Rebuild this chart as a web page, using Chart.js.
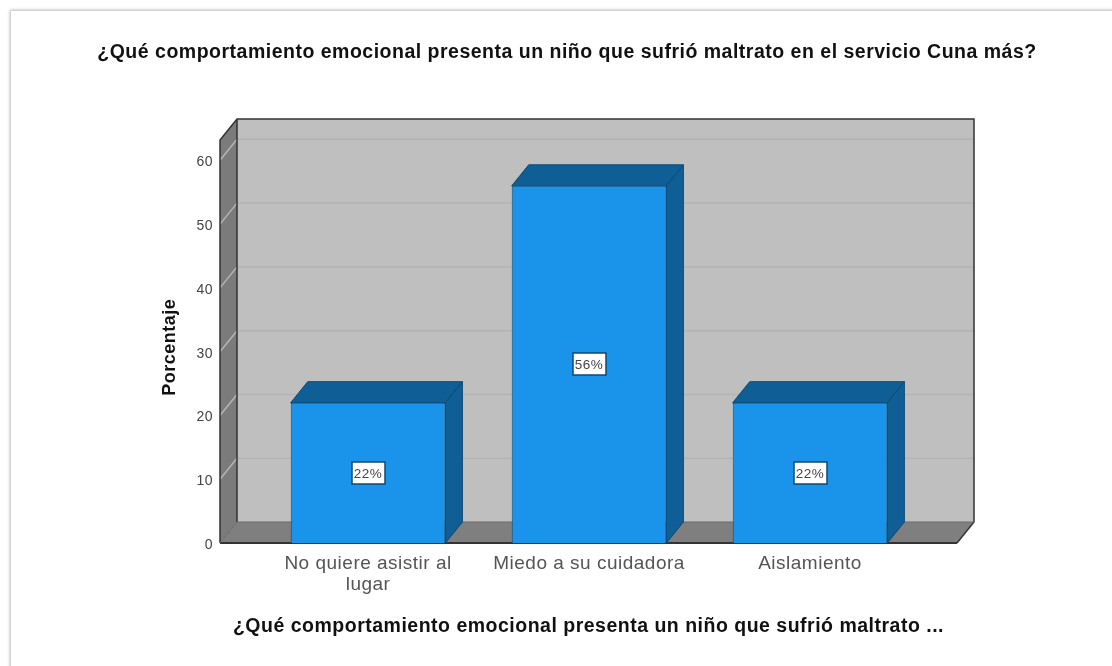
<!DOCTYPE html>
<html>
<head>
<meta charset="utf-8">
<title>Comportamiento emocional</title>
<script src="https://cdn.jsdelivr.net/npm/chart.js@4"></script>
<style>
  html, body { margin: 0; padding: 0; background: #fff; overflow: hidden; width: 1112px; height: 666px; }
  #frame { position: absolute; left: 11px; top: 11px; width: 1112px; height: 700px; background: #fff;
           box-shadow: -1px -1px 3px #b5b5b5; }
  #chartCanvas { filter: blur(0.4px); }
</style>
</head>
<body>
<div id="frame"><canvas id="chartCanvas" width="1112" height="655"></canvas></div>
<script>
// DATA
const categories = [['No quiere asistir al', 'lugar'], 'Miedo a su cuidadora', 'Aislamiento'];
const porcentajes = [22, 56, 22];
const dataLabels = ['22%', '56%', '22%'];
const chartTitle = '¿Qué comportamiento emocional presenta un niño que sufrió maltrato en el servicio Cuna más?';
const xTitle = '¿Qué comportamiento emocional presenta un niño que sufrió maltrato ...';
const yTitle = 'Porcentaje';

const FONT = '"Liberation Sans", Arial, sans-serif';
// depth of the fake 3D box, in pixels
const DX = 17;
const DY = -21;
// value at the top of the front edge of the left wall
const WALL_TOP = 63.2;

function poly(ctx, pts, fill, stroke) {
  ctx.beginPath();
  pts.forEach((p, i) => i ? ctx.lineTo(p[0], p[1]) : ctx.moveTo(p[0], p[1]));
  ctx.closePath();
  if (fill) { ctx.fillStyle = fill; ctx.fill(); }
  if (stroke) { ctx.strokeStyle = stroke; ctx.stroke(); }
}

// back wall, left wall, floor and the grid on them
const wallsPlugin = {
  id: 'walls',
  afterLayout(chart) {
    // layout padding squeezes the title box, give it the whole canvas width back
    chart.titleBlock.left = 0;
    chart.titleBlock.right = chart.width;
  },
  beforeDraw(chart) {
    // the reference text is a bit wider than Liberation Sans
    chart.ctx.letterSpacing = '0.5px';
  },
  beforeDatasetsDraw(chart) {
    const ctx = chart.ctx;
    const yScale = chart.scales.y;
    const l = chart.chartArea.left, r = chart.chartArea.right, b = yScale.getPixelForValue(0);
    const t = yScale.getPixelForValue(WALL_TOP);
    ctx.save();
    ctx.lineWidth = 1;
    poly(ctx, [[l + DX, t + DY], [r + DX, t + DY], [r + DX, b + DY], [l + DX, b + DY]], '#bfbfbf');
    poly(ctx, [[l, t], [l + DX, t + DY], [l + DX, b + DY], [l, b]], '#7b7b7b');
    poly(ctx, [[l, b], [l + DX, b + DY], [r + DX, b + DY], [r, b]], '#7f7f7f');
    yScale.ticks.forEach(tick => {
      if (tick.value === 0) return;
      const y = yScale.getPixelForValue(tick.value);
      ctx.strokeStyle = '#b3b3b3';
      ctx.lineWidth = 1.5;
      ctx.beginPath(); ctx.moveTo(l + DX, y + DY); ctx.lineTo(r + DX, y + DY); ctx.stroke();
      ctx.strokeStyle = '#b5b5b5';
      ctx.beginPath(); ctx.moveTo(l, y); ctx.lineTo(l + DX, y + DY); ctx.stroke();
    });
    // dark edges
    ctx.strokeStyle = '#333';
    ctx.lineWidth = 1.5;
    ctx.beginPath();
    ctx.moveTo(l, b); ctx.lineTo(l, t); ctx.lineTo(l + DX, t + DY); ctx.lineTo(r + DX, t + DY);
    ctx.lineTo(r + DX, b + DY); ctx.lineTo(r, b);
    ctx.moveTo(l + DX, t + DY); ctx.lineTo(l + DX, b + DY);
    ctx.stroke();
    ctx.lineWidth = 2;
    ctx.beginPath(); ctx.moveTo(l, b); ctx.lineTo(r, b); ctx.stroke();
    ctx.strokeStyle = '#6a6a6a';
    ctx.lineWidth = 1;
    ctx.beginPath(); ctx.moveTo(l, b); ctx.lineTo(l + DX, b + DY); ctx.lineTo(r + DX, b + DY); ctx.stroke();
    // top and side of each bar, the front comes from Chart.js
    chart.getDatasetMeta(0).data.forEach(bar => {
      const x0 = bar.x - bar.width / 2, x1 = bar.x + bar.width / 2;
      poly(ctx, [[x0, bar.y], [x0 + DX, bar.y + DY], [x1 + DX, bar.y + DY], [x1, bar.y]], '#0f5f96', '#0b4a75');
      poly(ctx, [[x1, bar.y], [x1 + DX, bar.y + DY], [x1 + DX, bar.base + DY], [x1, bar.base]], '#0f5f96', '#0b4a75');
    });
    ctx.restore();
  },
  afterDatasetsDraw(chart) {
    const ctx = chart.ctx;
    ctx.save();
    ctx.font = '13.5px ' + FONT;
    ctx.textAlign = 'center';
    ctx.textBaseline = 'middle';
    chart.getDatasetMeta(0).data.forEach((bar, i) => {
      const cy = (bar.y + bar.base) / 2;
      ctx.fillStyle = '#fff';
      ctx.strokeStyle = '#12486e';
      ctx.lineWidth = 1.5;
      ctx.beginPath();
      ctx.rect(Math.round(bar.x - 16.5), Math.round(cy - 11), 33, 22);
      ctx.fill();
      ctx.stroke();
      ctx.fillStyle = '#444';
      ctx.fillText(dataLabels[i], bar.x, cy + 1);
    });
    ctx.restore();
  }
};

new Chart(document.getElementById('chartCanvas'), {
  type: 'bar',
  data: {
    datasets: [{
      label: yTitle,
      data: porcentajes.map((v, i) => ({ x: i, y: v })),
      backgroundColor: '#1a94ea',
      borderColor: '#0b4a75',
      borderWidth: 1,
      barPercentage: 0.7,
      categoryPercentage: 1
    }]
  },
  options: {
    responsive: false,
    animation: false,
    layout: { padding: { left: 148, right: 166, top: 0, bottom: 0 } },
    plugins: {
      legend: { display: false },
      tooltip: { enabled: false },
      title: {
        display: true,
        text: chartTitle,
        color: '#111',
        font: { family: FONT, size: 19.5, weight: 'bold', lineHeight: 1.2 },
        padding: { top: 30, bottom: 87 }
      }
    },
    scales: {
      x: {
        type: 'linear',
        offset: false,
        min: -0.67,
        max: 2.665,
        grid: { display: false, drawTicks: false },
        border: { display: false },
        ticks: {
          stepSize: 1,
          includeBounds: false,
          autoSkip: false,
          maxRotation: 0,
          padding: 10,
          color: '#555',
          font: { family: FONT, size: 19, lineHeight: 1.1 },
          callback: v => categories[v]
        },
        title: {
          display: true,
          text: xTitle,
          color: '#111',
          font: { family: FONT, size: 19.5, weight: 'bold', lineHeight: 1.2 },
          padding: { top: 0, bottom: 28 }
        },
        afterFit(scale) { scale.height = 123; }
      },
      y: {
        min: 0,
        max: 61.4,
        grid: { display: false, drawTicks: false },
        border: { display: false },
        ticks: {
          stepSize: 10,
          includeBounds: false,
          padding: 7,
          labelOffset: 2,
          color: '#444',
          font: { family: FONT, size: 14 }
        },
        title: {
          display: true,
          text: yTitle,
          color: '#111',
          font: { family: FONT, size: 18, weight: 'bold' },
          padding: 0
        },
        afterFit(scale) { scale.width = 61; }
      }
    }
  },
  plugins: [wallsPlugin]
});
</script>
</body>
</html>
